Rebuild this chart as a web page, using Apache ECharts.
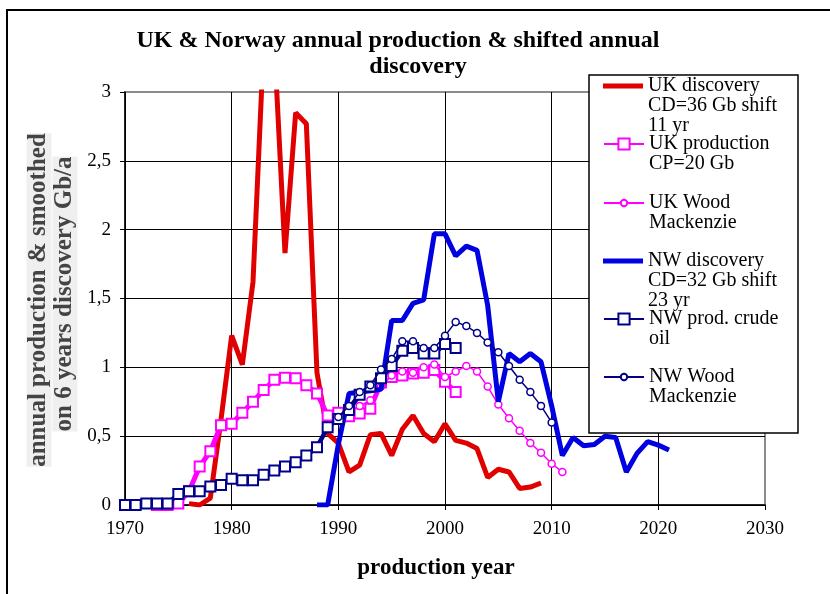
<!DOCTYPE html>
<html><head><meta charset="utf-8">
<script src="https://cdn.jsdelivr.net/npm/echarts@6/dist/echarts.min.js"></script>
<style>html,body{margin:0;padding:0;background:#fff}#c{width:830px;height:594px}</style>
</head><body><div id="c"></div>
<script>
// ---- data ----
const xTickLabels = ['1970','1980','1990','2000','2010','2020','2030'];
const yTickLabels = ['0','0,5','1','1,5','2','2,5','3'];

const seriesNames = [
  'UK discovery\nCD=36 Gb shift\n11 yr',
  'UK production\nCP=20 Gb',
  'UK Wood\nMackenzie',
  'NW discovery\nCD=32 Gb shift\n23 yr',
  'NW prod. crude\noil',
  'NW Wood\nMackenzie'
];

const ukDiscStart = 1976;
const ukDiscovery = [0.01,0.0,0.05,0.62,1.23,1.02,1.62,3.35,3.35,1.83,2.85,2.77,0.96,0.52,0.45,0.24,0.29,0.51,0.52,0.36,0.55,0.65,0.52,0.46,0.59,0.47,0.45,0.41,0.20,0.26,0.24,0.12,0.13,0.16];

const ukProdStart = 1973;
const ukProduction = [0,0,0.01,0.10,0.28,0.39,0.58,0.59,0.67,0.75,0.835,0.91,0.925,0.92,0.87,0.81,0.65,0.67,0.645,0.665,0.70,0.89,0.93,0.94,0.955,0.96,0.98,0.895,0.82];

const ukWoodStart = 1991;
const ukWood = [0.68,0.72,0.76,0.86,0.94,0.97,0.96,1.0,1.02,0.93,0.97,1.01,0.97,0.86,0.73,0.63,0.54,0.45,0.38,0.30,0.24];

const nwDiscStart = 1988;
const nwDiscovery = [0,0,0.44,0.81,0.82,0.83,0.84,1.34,1.34,1.465,1.49,1.97,1.97,1.81,1.88,1.85,1.45,0.75,1.10,1.04,1.10,1.04,0.72,0.36,0.49,0.43,0.44,0.50,0.49,0.24,0.375,0.46,0.435,0.40];

const nwProdStart = 1970;
const nwProduction = [0,0,0.01,0.01,0.01,0.08,0.10,0.10,0.135,0.145,0.19,0.18,0.18,0.22,0.25,0.28,0.31,0.36,0.42,0.565,0.625,0.69,0.80,0.86,0.92,1.01,1.12,1.14,1.10,1.10,1.17,1.14];

const nwWoodStart = 1990;
const nwWood = [0.64,0.72,0.82,0.87,0.985,1.06,1.19,1.19,1.14,1.14,1.23,1.33,1.30,1.25,1.18,1.11,1.01,0.91,0.82,0.72,0.60];

// ---- build ----
function pairs(start, vals){ return vals.map((v,i)=>[start+i, v]); }
const SERIF = '"Liberation Serif","Times New Roman",serif';
const RED='#e00000', MAG='#ff00ff', BLUE='#0000e0', NAVY='#000088';

const chart = echarts.init(document.getElementById('c'), null, {renderer:'canvas'});

const legendCenters = [86,144,203,261,319,377];
const legendIconH = [5,14,8,5,14,8];
const legendIcon = ['rect',null,null,'rect',null,null];
const legendColor = [RED,null,null,BLUE,null,null];
const lh = 20;
const legends = seriesNames.map((nm,i)=>{
  const n = nm.split('\n').length;
  const item = {name:nm};
  if (legendIcon[i]) { item.icon = legendIcon[i]; item.itemStyle = {color:legendColor[i], borderWidth:0}; }
  return {
    data:[item], orient:'vertical', left:603, top: legendCenters[i] - (n-0.5)*lh,
    padding:0, itemWidth:40, itemHeight:legendIconH[i], z:10,
    formatter:(name)=>'\n'.repeat(n-1)+name,
    textStyle:{fontFamily:SERIF, fontSize:20, color:'#000', lineHeight:lh, backgroundColor:'transparent'}
  };
});

const option = {
  animation:false,
  backgroundColor:'#fff',
  grid:{left:125, right:65, top:92, bottom:89, show:true, borderColor:'#8c8c8c', borderWidth:2, backgroundColor:'#fff', outerBoundsMode:'none'},
  legend: legends,
  xAxis:{type:'value', min:1970, max:2030, interval:10,
    axisLine:{show:true, lineStyle:{color:'#000', width:1.5}},
    axisTick:{show:true, length:5, lineStyle:{color:'#000'}},
    splitLine:{show:true, showMaxLine:false, lineStyle:{color:'#000', width:1}},
    axisLabel:{margin:15, fontFamily:SERIF, fontSize:19, color:'#000',
      formatter:(v)=>xTickLabels[Math.round((v-1970)/10)]}
  },
  yAxis:{type:'value', min:0, max:3, interval:0.5,
    axisLine:{show:true, lineStyle:{color:'#000', width:1.5}},
    axisTick:{show:true, length:5, lineStyle:{color:'#000'}},
    splitLine:{show:true, showMaxLine:false, lineStyle:{color:'#000', width:1}},
    axisLabel:{margin:14, fontFamily:SERIF, fontSize:19, color:'#000',
      formatter:(v)=>yTickLabels[Math.round(v/0.5)]}
  },
  series:[
    {name:seriesNames[0], type:'line', data:pairs(ukDiscStart, ukDiscovery), symbol:'none',
      lineStyle:{color:RED, width:5}, itemStyle:{color:RED}, z:2},
    {name:seriesNames[1], type:'line', data:pairs(ukProdStart, ukProduction), symbol:'rect', symbolSize:10, showAllSymbol:true,
      lineStyle:{color:MAG, width:5}, itemStyle:{color:'#fff', borderColor:MAG, borderWidth:2}, z:3},
    {name:seriesNames[2], type:'line', data:pairs(ukWoodStart, ukWood), symbol:'circle', symbolSize:7, showAllSymbol:true,
      lineStyle:{color:MAG, width:1.5}, itemStyle:{color:'#fff', borderColor:MAG, borderWidth:1.5}, z:4},
    {name:seriesNames[3], type:'line', data:pairs(nwDiscStart, nwDiscovery), symbol:'none',
      lineStyle:{color:BLUE, width:5}, itemStyle:{color:BLUE}, z:5},
    {name:seriesNames[4], type:'line', data:pairs(nwProdStart, nwProduction), symbol:'rect', symbolSize:10, showAllSymbol:true,
      lineStyle:{color:NAVY, width:4.5}, itemStyle:{color:'#fff', borderColor:NAVY, borderWidth:2}, z:6},
    {name:seriesNames[5], type:'line', data:pairs(nwWoodStart, nwWood), symbol:'circle', symbolSize:7, showAllSymbol:true,
      lineStyle:{color:NAVY, width:1.5}, itemStyle:{color:'#fff', borderColor:NAVY, borderWidth:1.5}, z:7}
  ],
  graphic:[
    {type:'polyline', shape:{points:[[7,594],[7,10],[830,10]]}, style:{stroke:'#000', lineWidth:2, fill:null}, z:1},
    {type:'rect', shape:{x:589, y:75, width:209, height:358}, style:{fill:'#fff', stroke:'#000', lineWidth:1.5}, z:8},
    {type:'text', x:398, y:41, style:{text:'UK & Norway annual production & shifted annual', font:'bold 24px '+SERIF, fill:'#000', textAlign:'center', textVerticalAlign:'middle'}, z:9},
    {type:'text', x:418, y:67, style:{text:'discovery', font:'bold 24px '+SERIF, fill:'#000', textAlign:'center', textVerticalAlign:'middle'}, z:9},
    {type:'text', x:436, y:568, style:{text:'production year', font:'bold 23px '+SERIF, fill:'#000', textAlign:'center', textVerticalAlign:'middle'}, z:9},
    {type:'text', x:39, y:300, rotation:Math.PI/2, style:{text:'annual production & smoothed', font:'bold 25px '+SERIF, fill:'#444', backgroundColor:'#efefef', textAlign:'center', textVerticalAlign:'middle'}, z:9},
    {type:'text', x:65, y:294, rotation:Math.PI/2, style:{text:'on 6 years discovery Gb/a', font:'bold 25px '+SERIF, fill:'#444', backgroundColor:'#efefef', textAlign:'center', textVerticalAlign:'middle'}, z:9}
  ]
};
chart.setOption(option);
</script>
</body></html>
